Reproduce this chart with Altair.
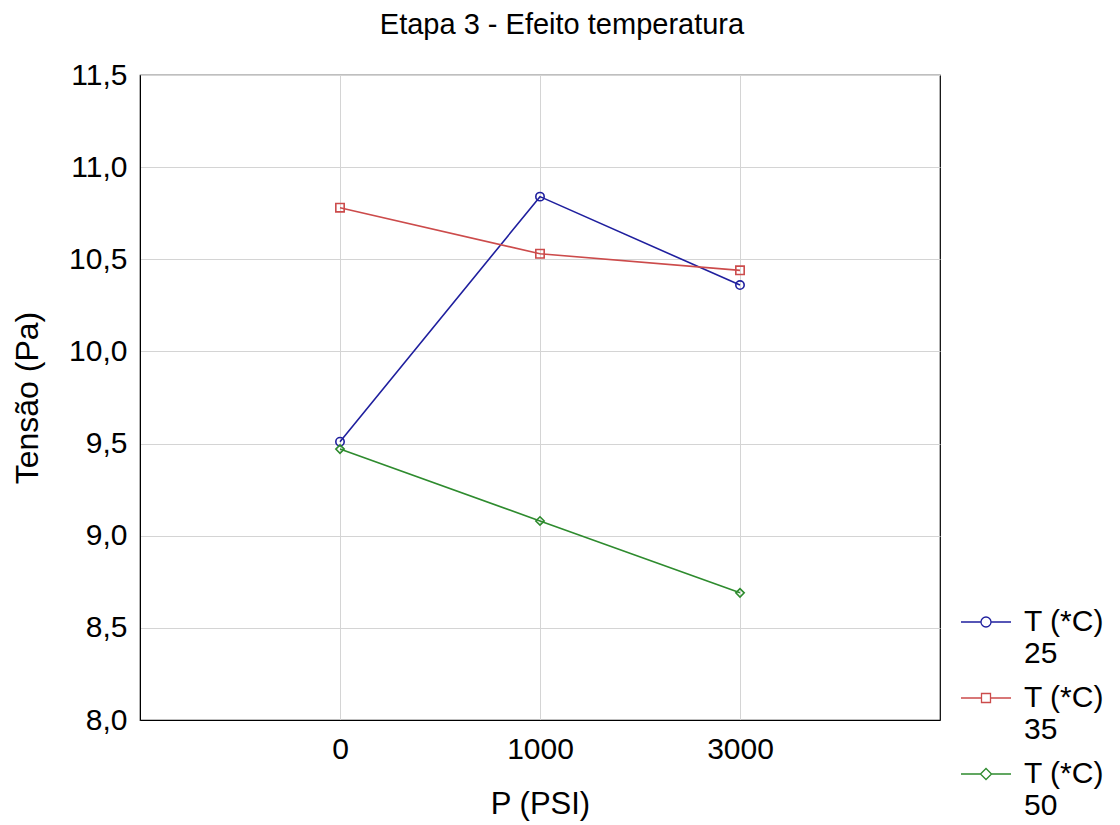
import altair as alt
import pandas as pd

pressures = ["0", "1000", "3000"]
temps = ["25", "35", "50"]
t25 = [9.51, 10.84, 10.36]
t35 = [10.78, 10.53, 10.44]
t50 = [9.47, 9.08, 8.69]

colors = ["#1f1f9e", "#cc4b4b", "#2e8b2e"]
shapes = ["circle", "square", "diamond"]
legend_paths = [
    "M-1,0L-0.2,0M0.2,0L1,0M-0.2,0A0.2,0.2 0 1,0 0.2,0A0.2,0.2 0 1,0 -0.2,0",
    "M-1,0L-0.18,0M0.18,0L1,0M-0.18,-0.18L0.18,-0.18L0.18,0.18L-0.18,0.18Z",
    "M-1,0L-0.22,0M0.22,0L1,0M-0.22,0L0,-0.22L0.22,0L0,0.22Z",
]

rows = []
for t, vals in zip(temps, [t25, t35, t50]):
    for p, v in zip(pressures, vals):
        rows.append({"P": p, "T": t, "V": v})
df = pd.DataFrame(rows)

font = "Liberation Sans"

x = alt.X("P:O", sort=pressures, scale=alt.Scale(type="point", padding=1),
          axis=alt.Axis(title="P (PSI)", labelAngle=0, labelFontSize=30, titleFontSize=31,
                        labelColor="#000", titleColor="#000", titleFontWeight="normal",
                        labelPadding=14, titlePadding=25, ticks=False,
                        domainColor="#000", gridColor="#d4d4d4", grid=True))
y = alt.Y("V:Q", scale=alt.Scale(domain=[8.0, 11.5], nice=False, zero=False),
          axis=alt.Axis(title="Tensão (Pa)", values=[8.0, 8.5, 9.0, 9.5, 10.0, 10.5, 11.0, 11.5],
                        labelExpr="replace(format(datum.value, '.1f'), '.', ',')",
                        labelFontSize=30, titleFontSize=32, labelColor="#000", titleColor="#000",
                        titleFontWeight="normal", labelPadding=13, titlePadding=24,
                        ticks=False, domainColor="#000",
                        gridColor="#d4d4d4", grid=True))
color = alt.Color("T:N", scale=alt.Scale(domain=temps, range=colors), legend=None)

lines = alt.Chart(df).mark_line(strokeWidth=1.6).encode(x=x, y=y, color=color)
points = alt.Chart(df).mark_point(filled=False, size=70, strokeWidth=1.6, opacity=1).encode(
    x=x, y=y, color=color,
    shape=alt.Shape("T:N", scale=alt.Scale(domain=temps, range=shapes), legend=None))

leg_props = dict(title=None, orient="none", legendX=820, legendY=521,
                 symbolSize=2500, symbolStrokeWidth=1.3,
                 labelExpr="['T (*C)', datum.label]",
                 labelFontSize=30, labelColor="#000", labelFont=font,
                 labelBaseline="middle", labelOffset=12,
                 rowPadding=3, labelLimit=300, symbolOpacity=1)
leg = alt.Chart(df).transform_filter("false").mark_point(filled=False, strokeWidth=1.3).encode(
    x=x, y=y,
    color=alt.Color("T:N", scale=alt.Scale(domain=temps, range=colors),
                    legend=alt.Legend(**leg_props)),
    shape=alt.Shape("T:N", scale=alt.Scale(domain=temps, range=legend_paths),
                    legend=alt.Legend(**leg_props)))

chart = alt.layer(lines, points, leg).resolve_scale(shape="independent", color="independent").properties(
    width=800, height=645,
    autosize=alt.AutoSizeParams(type="none"),
    padding={"left": 132, "top": 67, "right": 172, "bottom": 110},
    title=alt.TitleParams("Etapa 3 - Efeito temperatura", fontSize=29, fontWeight="normal",
                          font=font, color="#000", offset=20, anchor="middle", dx=22),
).configure(font=font).configure_view(stroke="#000", strokeWidth=1.2)

chart.save("out.html", embed_options={"renderer": "svg", "actions": False})
